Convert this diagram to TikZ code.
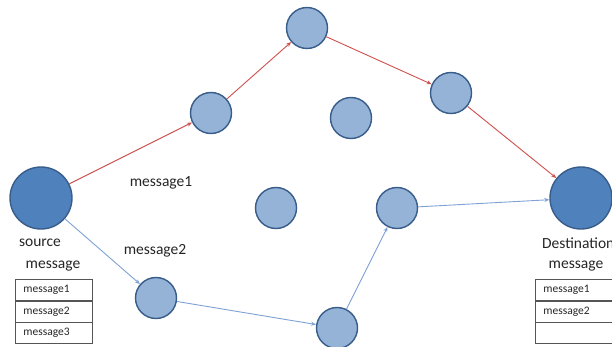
\documentclass[tikz,border=0pt]{standalone}
\usepackage{fontspec}
\setmainfont{Carlito}
\usetikzlibrary{arrows.meta}
\definecolor{nodefill}{HTML}{95B3D7}
\definecolor{hubfill}{HTML}{4F81BD}
\definecolor{nodeline}{HTML}{385D8A}
\definecolor{redpath}{HTML}{D0504D}
\definecolor{bluepath}{HTML}{7FA2D4}
\definecolor{cellline}{HTML}{555555}
\definecolor{inktext}{HTML}{262626}
\tikzset{
  peer/.style={circle, draw=nodeline, line width=1.4pt, fill=nodefill, minimum size=41pt, inner sep=0pt},
  hub/.style={circle, draw=nodeline, line width=1.4pt, fill=hubfill, minimum size=62pt, inner sep=0pt},
  redhop/.style={draw=redpath, line width=0.9pt, -{Stealth[length=5pt,width=4pt]}},
  bluehop/.style={draw=bluepath, line width=0.9pt, -{Stealth[length=5pt,width=4pt]}},
  lbl/.style={font=\fontsize{15.5}{18}\selectfont, text=inktext, inner sep=0pt},
  cell/.style={draw=cellline, line width=0.7pt, minimum width=77pt, minimum height=21pt,
    inner xsep=8pt, inner ysep=0pt, text width=61pt, align=left,
    font=\fontsize{11.5}{13}\selectfont, text=inktext, anchor=north west}
}
\begin{document}
\begin{tikzpicture}[x=1pt,y=-1pt]
\useasboundingbox (0,0) rectangle (612,347);
\clip (0,0) rectangle (612,347);
\fill[white] (0,0) rectangle (612,347);

% endpoints
\node[hub] (src) at (41,198) {};
\node[hub] (dst) at (581,198) {};

% relay nodes
\node[peer] (a) at (211,113) {};
\node[peer] (b) at (307,28) {};
\node[peer] (c) at (351,118) {};
\node[peer] (d) at (451,93) {};
\node[peer] (e) at (276,208) {};
\node[peer] (f) at (397,208) {};
\node[peer] (g) at (156,298) {};
\node[peer] (h) at (337,328) {};

% route of message1
\draw[redhop] (src) -- (a);
\draw[redhop] (a) -- (b);
\draw[redhop] (b) -- (d);
\draw[redhop] (d) -- (dst);

% route of message2
\draw[bluehop] (src) -- (g);
\draw[bluehop] (g) -- (h);
\draw[bluehop] (h) -- (f);
\draw[bluehop] (f) -- (dst);

% labels
\node[lbl] (m1) at (161,183) {message1};
\node[lbl] (m2) at (155,251) {message2};
\node[lbl] (srclbl) at (40,243) {source};
\node[lbl, anchor=west] (dstlbl) at (542,243) {Destination};
\node[lbl] (srcmsg) at (53,266) {message};
\node[lbl] (dstmsg) at (576,266) {message};

% message tables
\node[cell] (s1) at (15,279) {message1};
\node[cell] (s2) at (s1.south west) {message2};
\node[cell] (s3) at (s2.south west) {message3};
\node[cell] (d1) at (535,279) {message1};
\node[cell] (d2) at (d1.south west) {message2};
\node[cell] (d3) at (d2.south west) {};
\end{tikzpicture}
\end{document}
